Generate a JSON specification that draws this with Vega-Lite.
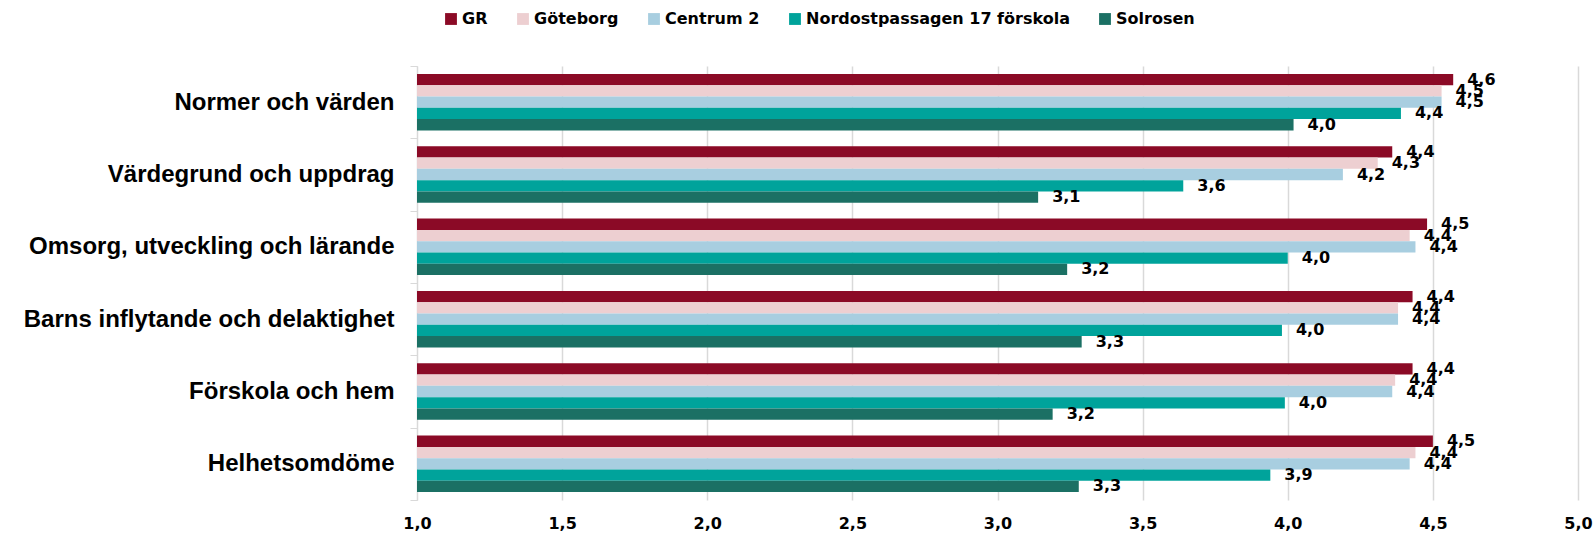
{
  "$schema": "https://vega.github.io/schema/vega-lite/v6.json",
  "width": 1161,
  "height": 434,
  "autosize": {"type": "none"},
  "padding": {"left": 417, "top": 66, "right": 17, "bottom": 33},
  "background": "white",
  "config": {
    "view": {"stroke": null},
    "locale": {"number": {"decimal": ",", "thousands": " ", "grouping": [3], "currency": ["", " kr"]}}
  },
  "data": {
    "values": [
      {"kategori": "Normer och värden", "enhet": "GR", "varde": 4.57},
      {"kategori": "Normer och värden", "enhet": "Göteborg", "varde": 4.53},
      {"kategori": "Normer och värden", "enhet": "Centrum 2", "varde": 4.53},
      {"kategori": "Normer och värden", "enhet": "Nordostpassagen 17 förskola", "varde": 4.39},
      {"kategori": "Normer och värden", "enhet": "Solrosen", "varde": 4.02},
      {"kategori": "Värdegrund och uppdrag", "enhet": "GR", "varde": 4.36},
      {"kategori": "Värdegrund och uppdrag", "enhet": "Göteborg", "varde": 4.31},
      {"kategori": "Värdegrund och uppdrag", "enhet": "Centrum 2", "varde": 4.19},
      {"kategori": "Värdegrund och uppdrag", "enhet": "Nordostpassagen 17 förskola", "varde": 3.64},
      {"kategori": "Värdegrund och uppdrag", "enhet": "Solrosen", "varde": 3.14},
      {"kategori": "Omsorg, utveckling och lärande", "enhet": "GR", "varde": 4.48},
      {"kategori": "Omsorg, utveckling och lärande", "enhet": "Göteborg", "varde": 4.42},
      {"kategori": "Omsorg, utveckling och lärande", "enhet": "Centrum 2", "varde": 4.44},
      {"kategori": "Omsorg, utveckling och lärande", "enhet": "Nordostpassagen 17 förskola", "varde": 4.0},
      {"kategori": "Omsorg, utveckling och lärande", "enhet": "Solrosen", "varde": 3.24},
      {"kategori": "Barns inflytande och delaktighet\u00a0", "enhet": "GR", "varde": 4.43},
      {"kategori": "Barns inflytande och delaktighet\u00a0", "enhet": "Göteborg", "varde": 4.38},
      {"kategori": "Barns inflytande och delaktighet\u00a0", "enhet": "Centrum 2", "varde": 4.38},
      {"kategori": "Barns inflytande och delaktighet\u00a0", "enhet": "Nordostpassagen 17 förskola", "varde": 3.98},
      {"kategori": "Barns inflytande och delaktighet\u00a0", "enhet": "Solrosen", "varde": 3.29},
      {"kategori": "Förskola och hem\u00a0", "enhet": "GR", "varde": 4.43},
      {"kategori": "Förskola och hem\u00a0", "enhet": "Göteborg", "varde": 4.37},
      {"kategori": "Förskola och hem\u00a0", "enhet": "Centrum 2", "varde": 4.36},
      {"kategori": "Förskola och hem\u00a0", "enhet": "Nordostpassagen 17 förskola", "varde": 3.99},
      {"kategori": "Förskola och hem\u00a0", "enhet": "Solrosen", "varde": 3.19},
      {"kategori": "Helhetsomdöme", "enhet": "GR", "varde": 4.5},
      {"kategori": "Helhetsomdöme", "enhet": "Göteborg", "varde": 4.44},
      {"kategori": "Helhetsomdöme", "enhet": "Centrum 2", "varde": 4.42},
      {"kategori": "Helhetsomdöme", "enhet": "Nordostpassagen 17 förskola", "varde": 3.94},
      {"kategori": "Helhetsomdöme", "enhet": "Solrosen", "varde": 3.28}
    ]
  },
  "encoding": {
    "y": {
      "field": "kategori",
      "type": "nominal",
      "sort": null,
      "scale": {"paddingInner": 0, "paddingOuter": 0},
      "axis": {
        "title": null,
        "tickBand": "extent",
        "tickSize": 7,
        "tickColor": "#d9d9d9",
        "domainColor": "#d9d9d9",
        "labelPadding": 16,
        "labelFont": "Liberation Sans",
        "labelFontWeight": "bold",
        "labelFontSize": 24,
        "labelColor": "#000000",
        "labelLimit": 500
      }
    },
    "yOffset": {
      "field": "enhet",
      "type": "nominal",
      "sort": ["GR", "Göteborg", "Centrum 2", "Nordostpassagen 17 förskola", "Solrosen"],
      "scale": {"paddingInner": 0, "paddingOuter": 0.7}
    },
    "x": {
      "field": "varde",
      "type": "quantitative",
      "scale": {"domain": [1, 5], "nice": false, "zero": false},
      "axis": {
        "title": null,
        "values": [1, 1.5, 2, 2.5, 3, 3.5, 4, 4.5, 5],
        "format": ".1f",
        "ticks": false,
        "domain": false,
        "grid": true,
        "gridColor": "#d9d9d9",
        "gridWidth": 1.5,
        "labelFlush": false,
        "labelPadding": 15,
        "labelFont": "DejaVu Sans",
        "labelFontWeight": "bold",
        "labelFontSize": 16,
        "labelColor": "#000000"
      }
    }
  },
  "layer": [
    {
      "mark": {"type": "bar"},
      "encoding": {
        "x2": {"datum": 1},
        "color": {
          "field": "enhet",
          "type": "nominal",
          "sort": ["GR", "Göteborg", "Centrum 2", "Nordostpassagen 17 förskola", "Solrosen"],
          "scale": {
            "domain": ["GR", "Göteborg", "Centrum 2", "Nordostpassagen 17 förskola", "Solrosen"],
            "range": ["#8B0A26", "#EDCFD1", "#A8CEE0", "#00A39B", "#1B7064"]
          },
          "legend": {
            "title": null,
            "orient": "none",
            "direction": "horizontal",
            "legendX": 26,
            "legendY": -55,
            "padding": 0,
            "symbolType": "square",
            "symbolSize": 140,
            "symbolStrokeWidth": 0,
            "labelOffset": 3,
            "columnPadding": 27,
            "labelFont": "DejaVu Sans",
            "labelFontWeight": "bold",
            "labelFontSize": 16,
            "labelColor": "#000000",
            "labelLimit": 500
          }
        }
      }
    },
    {
      "mark": {
        "type": "text",
        "align": "left",
        "baseline": "middle",
        "dx": 14,
        "font": "DejaVu Sans",
        "fontWeight": "bold",
        "fontSize": 16,
        "color": "#000000"
      },
      "encoding": {
        "text": {"field": "varde", "type": "quantitative", "format": ".1f"}
      }
    }
  ]
}
